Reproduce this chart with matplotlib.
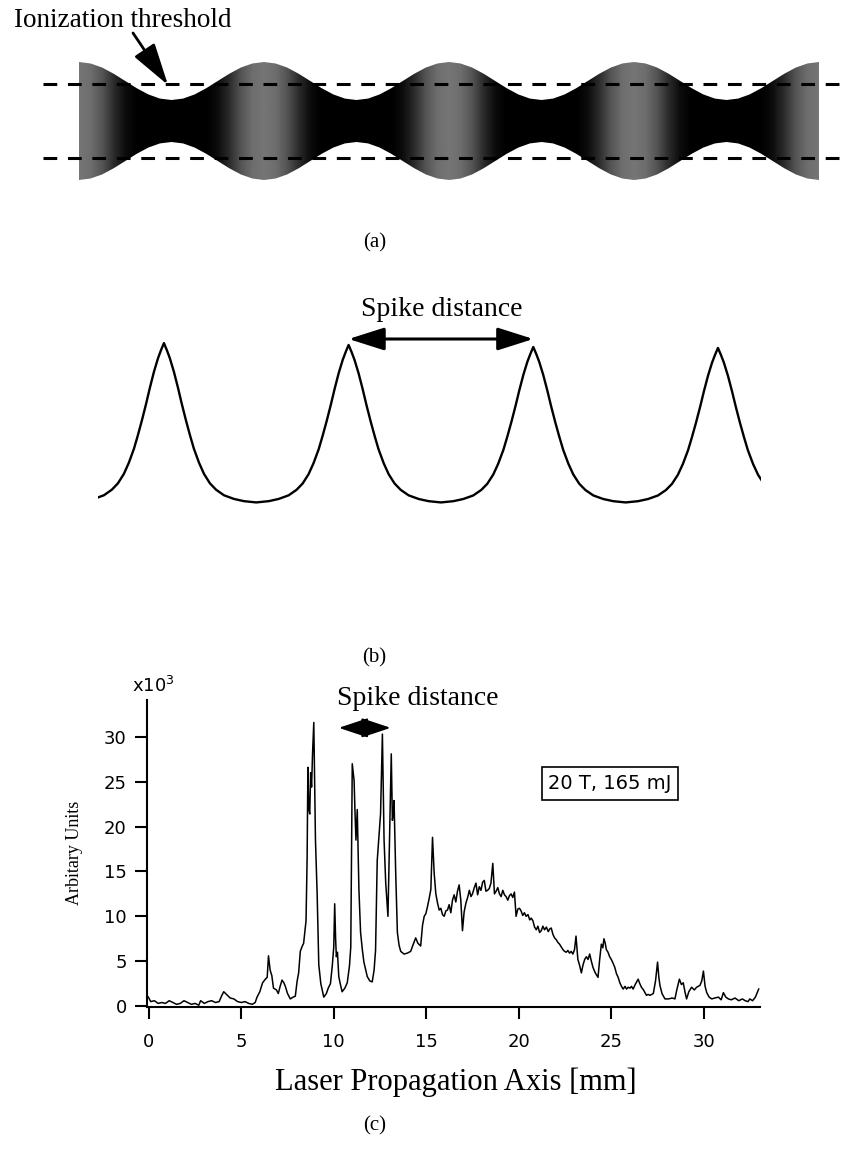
import numpy as np
import matplotlib
matplotlib.use("Agg")
import matplotlib.pyplot as plt
from matplotlib.patches import Polygon

# ---------------- (a) beam envelope along the channel ----------------
# one period of the envelope, starting at a bulge (phase 0) through a waist (0.5)
a_phase = [0.0, 0.0625, 0.125, 0.1875, 0.25, 0.3125, 0.375, 0.4375, 0.5,
           0.5625, 0.625, 0.6875, 0.75, 0.8125, 0.875, 0.9375, 1.0]
a_radius = [1.000, 0.975, 0.906, 0.801, 0.678, 0.555, 0.450, 0.380, 0.356,
            0.380, 0.450, 0.555, 0.678, 0.801, 0.906, 0.975, 1.000]
a_shade = [0.46, 0.43, 0.33, 0.17, 0.05, 0.0, 0.0, 0.0, 0.0,
           0.0, 0.0, 0.0, 0.05, 0.17, 0.33, 0.43, 0.46]
a_periods = 4
a_threshold = 0.619

# ---------------- (b) schematic emission spikes ----------------
b_peaks = [1, 2, 3, 4]
b_peak_top = [1.025, 1.013, 1.000, 0.994]
b_floor = 0.01
# shape of a single spike: distance from its centre (in spike spacings) -> relative height
b_offset = [0.0, 0.016, 0.032, 0.054, 0.076, 0.097, 0.119, 0.141, 0.162,
            0.190, 0.217, 0.249, 0.282, 0.325, 0.379, 0.433, 0.500]
b_profile = [1.000, 0.955, 0.905, 0.820, 0.720, 0.617, 0.516, 0.422, 0.338,
             0.249, 0.179, 0.120, 0.080, 0.045, 0.022, 0.008, 0.000]

# ---------------- (c) measured emission along the laser axis ----------------
c_x = [-0.1, 0.0, 0.1, 0.3, 0.5, 0.7, 0.9, 1.1, 1.3, 1.5, 1.7, 1.9, 2.1, 2.3, 2.5,
       2.7, 2.8, 3.0, 3.2, 3.4, 3.6, 3.8, 3.95, 4.05, 4.2, 4.4, 4.6, 4.8, 5.0, 5.2,
       5.4, 5.6, 5.75, 5.85, 6.0, 6.15, 6.3, 6.4, 6.47, 6.56, 6.65, 6.74, 6.9, 7.0,
       7.1, 7.2, 7.3, 7.38, 7.5, 7.65, 7.8, 7.92, 8.02, 8.1, 8.19, 8.28, 8.37, 8.45,
       8.5, 8.56, 8.6, 8.65, 8.7, 8.75, 8.8, 8.85, 8.92, 8.97, 9.01, 9.1, 9.19, 9.3,
       9.46, 9.6, 9.7, 9.82, 9.92, 10.0, 10.05, 10.1, 10.14, 10.2, 10.27, 10.35,
       10.45, 10.6, 10.73, 10.85, 10.92, 11.0, 11.05, 11.1, 11.15, 11.2, 11.27,
       11.32, 11.36, 11.45, 11.55, 11.63, 11.81, 11.95, 12.08, 12.18, 12.26, 12.35,
       12.45, 12.53, 12.63, 12.72, 12.81, 12.93, 13.02, 13.11, 13.17, 13.22, 13.26,
       13.35, 13.44, 13.53, 13.62, 13.8, 13.98, 14.16, 14.3, 14.43, 14.55, 14.7,
       14.8, 14.89, 14.98, 15.07, 15.16, 15.25, 15.34, 15.43, 15.52, 15.61, 15.7,
       15.79, 15.88, 15.97, 16.06, 16.15, 16.24, 16.33, 16.42, 16.51, 16.6, 16.69,
       16.78, 16.87, 16.96, 17.05, 17.15, 17.24, 17.33, 17.42, 17.5, 17.6, 17.69,
       17.78, 17.87, 17.96, 18.05, 18.14, 18.23, 18.32, 18.41, 18.5, 18.6, 18.69,
       18.78, 18.87, 18.96, 19.05, 19.14, 19.23, 19.32, 19.41, 19.5, 19.59, 19.68,
       19.77, 19.86, 19.95, 20.04, 20.13, 20.22, 20.31, 20.4, 20.5, 20.6, 20.68,
       20.77, 20.86, 20.95, 21.04, 21.13, 21.22, 21.31, 21.4, 21.5, 21.6, 21.68,
       21.76, 21.85, 21.94, 22.03, 22.12, 22.21, 22.3, 22.39, 22.48, 22.57, 22.66,
       22.75, 22.84, 22.93, 23.02, 23.1, 23.2, 23.3, 23.39, 23.48, 23.57, 23.66,
       23.75, 23.84, 23.93, 24.02, 24.12, 24.2, 24.29, 24.38, 24.47, 24.55, 24.61,
       24.68, 24.74, 24.83, 24.92, 25.01, 25.1, 25.2, 25.29, 25.38, 25.47, 25.56,
       25.65, 25.75, 25.83, 25.92, 26.02, 26.1, 26.19, 26.3, 26.46, 26.55, 26.64,
       26.75, 26.91, 27.0, 27.1, 27.28, 27.4, 27.51, 27.58, 27.64, 27.75, 27.91,
       28.1, 28.3, 28.45, 28.55, 28.69, 28.8, 28.9, 29.0, 29.08, 29.2, 29.35, 29.5,
       29.62, 29.8, 29.9, 29.99, 30.08, 30.17, 30.3, 30.44, 30.6, 30.8, 30.95,
       31.07, 31.2, 31.34, 31.5, 31.7, 31.9, 32.1, 32.25, 32.4, 32.5, 32.65, 32.8,
       32.98]
c_y = [1.2, 0.9, 0.5, 0.6, 0.3, 0.4, 0.3, 0.6, 0.4, 0.2, 0.3, 0.6, 0.4, 0.2, 0.3,
       0.1, 0.6, 0.3, 0.5, 0.6, 0.4, 0.5, 1.2, 1.6, 1.3, 0.9, 0.8, 0.5, 0.4, 0.5,
       0.3, 0.2, 0.4, 1.0, 1.6, 2.6, 3.0, 3.2, 5.6, 4.0, 3.4, 2.0, 1.8, 1.4,
       2.2, 2.9, 2.6, 2.2, 1.4, 0.8, 1.0, 1.1, 2.8, 3.7, 6.1, 6.6, 7.0, 8.5,
       9.5, 16.6, 26.6, 22.0, 21.4, 26.0, 24.4, 28.0, 31.6, 24.0, 18.5, 12.6, 4.6, 2.5,
       1.0, 1.4, 2.0, 2.5, 4.5, 6.6, 11.4, 7.5, 5.5, 6.0, 3.3, 2.5,
       1.6, 2.0, 2.6, 4.5, 6.6, 27.0, 26.0, 25.1, 21.5, 18.5, 21.9,
       17.0, 13.0, 8.2, 6.2, 4.9, 3.3, 2.8, 2.7, 4.0, 6.2, 16.2,
       19.0, 21.4, 30.3, 18.5, 13.7, 10.0, 19.2, 28.1, 20.7, 21.5, 22.9,
       14.8, 8.2, 6.8, 6.1, 5.8, 5.9, 6.1, 6.9, 7.6, 7.0, 6.7,
       9.0, 10.0, 10.3, 11.1, 12.0, 13.0, 18.8, 14.8, 12.5, 11.5, 10.7,
       10.9, 10.2, 10.0, 10.6, 10.7, 11.3, 10.4, 11.8, 12.4, 11.6, 12.8,
       13.5, 11.8, 8.4, 10.5, 11.5, 12.1, 12.9, 12.2, 12.5, 13.2, 13.7,
       12.4, 13.3, 12.9, 13.8, 14.0, 12.8, 12.9, 13.1, 13.7, 15.9, 12.5,
       12.8, 13.2, 12.5, 12.2, 12.9, 12.4, 12.2, 11.8, 12.3, 12.5, 12.1,
       12.7, 10.0, 10.8, 10.9, 10.6, 10.1, 10.4, 10.0, 10.2, 9.6, 9.8,
       9.5, 8.8, 8.5, 8.9, 8.2, 8.4, 8.9, 8.5, 8.8, 8.3, 8.6,
       8.7, 8.0, 7.6, 7.4, 7.1, 6.9, 6.6, 6.3, 6.1, 6.0, 6.2,
       5.9, 6.1, 5.8, 6.3, 7.8, 5.2, 4.5, 3.7, 4.6, 5.2, 5.5,
       5.2, 5.8, 5.0, 4.3, 3.8, 3.5, 3.2, 5.2, 6.9, 6.5, 7.5,
       7.0, 6.3, 6.0, 5.5, 5.2, 4.8, 4.3, 3.6, 3.2, 2.6, 2.2,
       1.9, 2.2, 1.9, 2.1, 2.0, 2.2, 1.9, 2.4, 3.0, 2.5, 2.1,
       1.8, 1.2, 1.3, 1.2, 1.4, 2.8, 4.9, 3.2, 2.3, 1.4, 0.8,
       0.8, 0.9, 0.8, 1.8, 3.0, 2.4, 2.6, 1.5, 0.8, 1.6, 2.1, 1.8,
       2.1, 2.3, 2.8, 3.9, 2.2, 1.5, 1.0, 0.8, 0.9, 1.0, 0.7,
       1.5, 1.0, 0.8, 0.7, 0.9, 0.6, 0.8, 0.6, 0.5, 0.8, 0.6, 1.0,
       1.9]
c_xticks = [0, 5, 10, 15, 20, 25, 30]
c_yticks = [0, 5, 10, 15, 20, 25, 30]
c_spike_left, c_spike_mid, c_spike_right, c_spike_level = 10.27, 11.63, 13.08, 31.0

SERIF = ["Liberation Serif", "DejaVu Serif"]
SANS = ["DejaVu Sans"]

W, H = 845, 1151
fig = plt.figure(figsize=(W / 100, H / 100), dpi=100)


def fx(px):
    return px / W


def fy(py):
    return 1 - py / H


def rect(left, top, right, bottom):
    return [fx(left), fy(bottom), (right - left) / W, (bottom - top) / H]


# ---------------- panel (a) ----------------
ax_a = fig.add_axes(rect(79, 62, 819, 180))
ax_a.set_xlim(0, a_periods)
ax_a.set_ylim(-1, 1)
ax_a.axis("off")

ph = np.array(a_phase)
rad = np.array(a_radius)
edge_x = np.concatenate([k + ph[:-1] for k in range(a_periods)] + [[a_periods]])
edge_r = np.concatenate([rad[:-1]] * a_periods + [[rad[-1]]])
band = Polygon(np.column_stack([np.concatenate([edge_x, edge_x[::-1]]),
                                np.concatenate([edge_r, -edge_r[::-1]])]),
               closed=True, facecolor="none", edgecolor="none")
ax_a.add_patch(band)

cols = np.linspace(0, a_periods, 1200)
shade = np.interp(np.mod(cols, 1.0), a_phase, a_shade)
img = ax_a.imshow(np.tile(shade, (4, 1)), cmap="gray", vmin=0, vmax=1,
                  extent=(0, a_periods, -1, 1), aspect="auto",
                  interpolation="bilinear", zorder=1)
img.set_clip_path(band)

for level in (a_threshold, -a_threshold):
    ax_a.plot([-0.195, 4.14], [level, level], color="black", lw=2.2,
              dashes=(4.5, 3.5), clip_on=False, zorder=2)

fig.text(fx(123), fy(26.7), "Ionization threshold", ha="center",
         va="baseline", fontsize=19.5, family=SERIF)
ax_a.annotate("", xy=(fx(168), fy(85)), xytext=(fx(133), fy(33)),
              xycoords="figure fraction", textcoords="figure fraction",
              arrowprops=dict(arrowstyle="-|>,head_length=2.6,head_width=0.75",
                              mutation_scale=10, lw=2.0, color="black",
                              shrinkA=0, shrinkB=0))
fig.text(fx(375), fy(243), "(a)", ha="center", va="center",
         fontsize=15, family=SERIF)

# ---------------- panel (b) ----------------
ax_b = fig.add_axes(rect(98, 331.3, 761, 504))
ax_b.set_xlim(0.643, 4.233)
ax_b.set_ylim(0, 1.1)
ax_b.axis("off")

off = np.array(b_offset)
prof = np.array(b_profile)
dx = np.concatenate([-off[:0:-1], off[:-1]])
shape = np.concatenate([prof[:0:-1], prof[:-1]])
bx = np.concatenate([p + dx for p in b_peaks] + [[b_peaks[-1] + off[-1]]])
by = np.concatenate([b_floor + (top - b_floor) * shape for top in b_peak_top]
                    + [[b_floor + (b_peak_top[-1] - b_floor) * prof[-1]]])
ax_b.plot(bx, by, color="black", lw=1.7, solid_joinstyle="round")

ax_b.annotate("", xy=(b_peaks[1], 1.051), xytext=(b_peaks[2], 1.051),
              arrowprops=dict(arrowstyle="<|-|>,head_length=2.2,head_width=0.7",
                              mutation_scale=10, lw=2.2, color="black",
                              shrinkA=0, shrinkB=0), annotation_clip=False)
fig.text(fx(441.7), fy(316), "Spike distance", ha="center", va="baseline",
         fontsize=20, family=SERIF)
fig.text(fx(374), fy(658), "(b)", ha="center", va="center",
         fontsize=15, family=SERIF)

# ---------------- panel (c) ----------------
ax_c = fig.add_axes(rect(147, 700, 760, 1007))
ax_c.plot(c_x, c_y, color="black", lw=1.1)
ax_c.set_xlim(-0.1, 33.05)
ax_c.set_ylim(-0.1, 34.1)
for side in ("top", "right"):
    ax_c.spines[side].set_visible(False)
for side in ("left", "bottom"):
    ax_c.spines[side].set_linewidth(1.5)
ax_c.set_xticks(c_xticks)
ax_c.set_yticks(c_yticks)
ax_c.tick_params(axis="both", direction="out", length=8.5, width=1.5,
                 labelsize=13)
ax_c.tick_params(axis="x", pad=10)
ax_c.tick_params(axis="y", pad=6)
for lab in ax_c.get_xticklabels() + ax_c.get_yticklabels():
    lab.set_family(SANS)

fig.text(fx(132), fy(692), r"x10$^{3}$", ha="left", va="baseline",
         fontsize=13, family=SANS)
fig.text(fx(75), fy(853), "Arbitary Units", rotation=90, ha="center",
         va="center", fontsize=13, family=SERIF)
fig.text(fx(456), fy(1090), "Laser Propagation Axis [mm]", ha="center",
         va="baseline", fontsize=22, family=SERIF)
fig.text(fx(375), fy(1126), "(c)", ha="center", va="center",
         fontsize=15, family=SERIF)

fig.text(fx(417.5), fy(705), "Spike distance", ha="center", va="baseline",
         fontsize=20, family=SERIF)
for end in (c_spike_left, c_spike_right):
    ax_c.annotate("", xy=(end, c_spike_level), xytext=(c_spike_mid, c_spike_level),
                  arrowprops=dict(arrowstyle="-|>,head_length=1.8,head_width=0.6",
                                  mutation_scale=10, lw=1.5, color="black",
                                  shrinkA=0, shrinkB=0), annotation_clip=False)

fig.text(fx(610), fy(783.5), "20 T, 165 mJ", ha="center", va="center",
         fontsize=14, family=SANS,
         bbox=dict(boxstyle="square,pad=0.35", facecolor="white",
                   edgecolor="black", lw=1.2))

fig.savefig("out.png", dpi=100)
